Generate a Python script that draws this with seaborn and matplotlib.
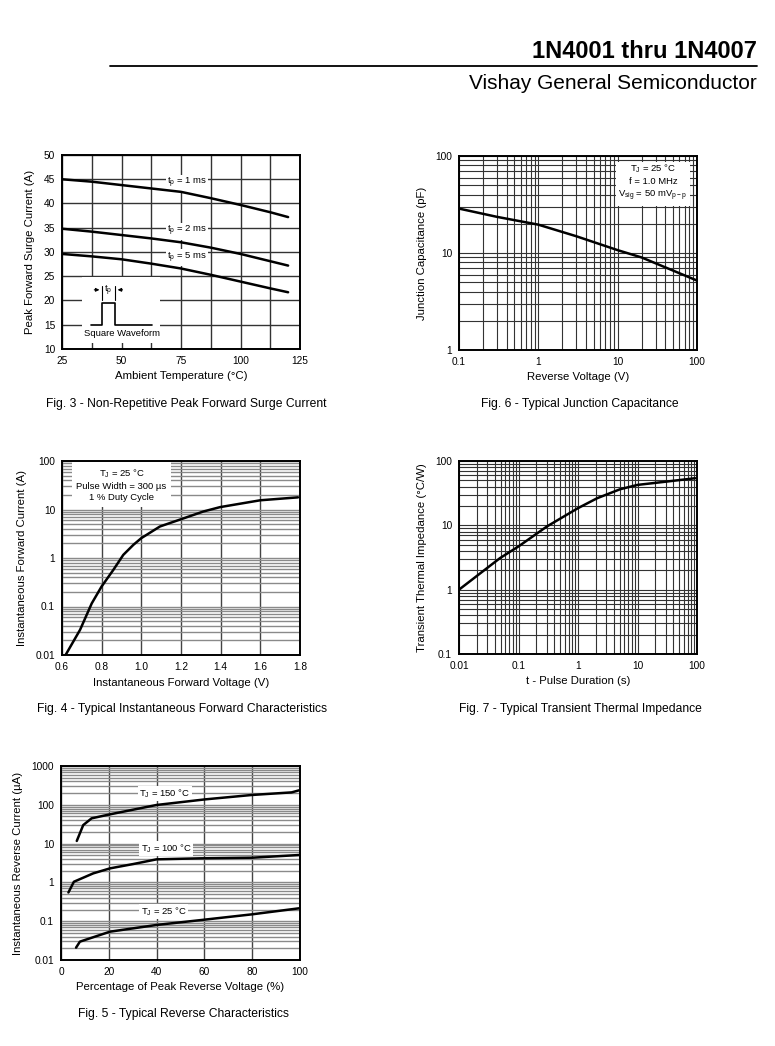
import numpy as np
import pandas as pd
import matplotlib
matplotlib.use("Agg")
import matplotlib.pyplot as plt
import seaborn as sns
from matplotlib.ticker import FixedLocator, NullFormatter, FuncFormatter, LogLocator, MultipleLocator
from matplotlib.lines import Line2D

# ---------------- data ----------------
# Fig 3 - surge current vs ambient temperature
fig3_temp = [25, 37.5, 50, 62.5, 75, 87.5, 100, 112.5, 120]
fig3_tp1 = [45.0, 44.5, 43.8, 43.1, 42.4, 41.1, 39.7, 38.2, 37.2]
fig3_tp2 = [34.8, 34.2, 33.5, 32.8, 32.0, 30.9, 29.6, 28.1, 27.2]
fig3_tp5 = [29.6, 29.1, 28.5, 27.6, 26.6, 25.3, 23.9, 22.5, 21.7]
fig3_labels = ["t$_\\mathregular{p}$ = 1 ms", "t$_\\mathregular{p}$ = 2 ms", "t$_\\mathregular{p}$ = 5 ms"]

# Fig 6 - junction capacitance
fig6_v = [0.1, 0.3, 1, 3, 10, 20, 100]
fig6_c = [28.7, 23.6, 19.6, 14.9, 10.7, 9.0, 5.2]

# Fig 4 - forward characteristics
fig4_v = [0.618, 0.691, 0.75, 0.80, 0.859, 0.909, 0.96, 1.0, 1.094, 1.2, 1.313, 1.397, 1.6, 1.79]
fig4_i = [0.01, 0.033, 0.116, 0.26, 0.57, 1.16, 1.87, 2.57, 4.47, 6.3, 9.1, 11.2, 15.5, 17.8]

# Fig 7 - transient thermal impedance
fig7_t = [0.01, 0.049, 0.1, 0.3, 1, 2.1, 5.1, 10, 31, 93]
fig7_z = [1.0, 3.1, 4.7, 9.6, 18.5, 26.4, 36.4, 42.5, 47.9, 54]

# Fig 5 - reverse characteristics
fig5_x150 = [6.6, 9.3, 12.8, 20.5, 40, 60.3, 79.8, 96.5, 99.6]
fig5_i150 = [11.7, 30, 44.8, 56.8, 99, 138, 179, 209, 236]
fig5_x100 = [3.1, 5.4, 13.5, 20.5, 30.3, 40, 58, 80, 99.6]
fig5_i100 = [0.55, 1.04, 1.71, 2.3, 2.98, 3.93, 4.17, 4.33, 5.08]
fig5_x25 = [6.3, 7.9, 20.5, 40, 60.3, 79.8, 99.6]
fig5_i25 = [0.0208, 0.0297, 0.0537, 0.08, 0.11, 0.15, 0.215]
fig5_labels = ["T$_\\mathregular{J}$ = 150 °C", "T$_\\mathregular{J}$ = 100 °C", "T$_\\mathregular{J}$ = 25 °C"]

captions = [
    "Fig. 3 - Non-Repetitive Peak Forward Surge Current",
    "Fig. 6 - Typical Junction Capacitance",
    "Fig. 4 - Typical Instantaneous Forward Characteristics",
    "Fig. 7 - Typical Transient Thermal Impedance",
    "Fig. 5 - Typical Reverse Characteristics",
]

# ---------------- style ----------------
sns.set_theme(style="white")
plt.rcParams['font.family'] = ['Liberation Sans', 'DejaVu Sans']
plt.rcParams['mathtext.fontset'] = 'custom'
plt.rcParams['mathtext.rm'] = 'Liberation Sans'
plt.rcParams['axes.edgecolor'] = 'black'
plt.rcParams['axes.linewidth'] = 1.4
plt.rcParams['text.color'] = 'black'
plt.rcParams['axes.labelcolor'] = 'black'
plt.rcParams['xtick.color'] = 'black'
plt.rcParams['ytick.color'] = 'black'

W, H = 775, 1046
fig = plt.figure(figsize=(W / 100, H / 100), dpi=100)
fig.patch.set_facecolor('white')


def make_ax(x0, y0, x1, y1):
    ax = fig.add_axes([x0 / W, 1 - y1 / H, (x1 - x0) / W, (y1 - y0) / H])
    ax.set_facecolor('white')
    for s in ax.spines.values():
        s.set_visible(True)
        s.set_color('black')
        s.set_linewidth(1.4)
        s.set_zorder(5)
    ax.tick_params(which='both', length=0, labelsize=7.3, pad=5, colors='black')
    return ax


LAB = 8.2
CURVE_LW = 1.8
logfmt = FuncFormatter(lambda v, p: f"{v:g}")

# ---------- Fig 3 ----------
ax3 = make_ax(62, 155, 300, 349)
d3 = pd.DataFrame({"temp": fig3_temp * 3,
                   "I": fig3_tp1 + fig3_tp2 + fig3_tp5,
                   "tp": ["1"] * 9 + ["2"] * 9 + ["5"] * 9})
sns.lineplot(data=d3, x="temp", y="I", units="tp", estimator=None, color="black",
             lw=CURVE_LW, ax=ax3, legend=False, zorder=4)
ax3.set_xlim(25, 125)
ax3.set_ylim(10, 50)
ax3.xaxis.set_major_locator(FixedLocator([25, 50, 75, 100, 125]))
ax3.xaxis.set_minor_locator(FixedLocator([37.5, 62.5, 87.5, 112.5]))
ax3.yaxis.set_major_locator(MultipleLocator(5))
ax3.grid(True, which='both', axis='x', color='#333333', lw=1.0)
ax3.grid(True, which='major', axis='y', color='#333333', lw=1.0)
ax3.set_xlabel("Ambient Temperature (°C)", fontsize=LAB, labelpad=4)
ax3.set_ylabel("Peak Forward Surge Current (A)", fontsize=LAB, labelpad=6)
for lab, yv in zip(fig3_labels, [44.2, 34.3, 28.8]):
    ax3.text(77.5, yv, lab, fontsize=6.8, ha='center', va='center', zorder=3,
             bbox=dict(facecolor='white', edgecolor='none', pad=1.0))
# inset: square waveform
ax3.add_patch(plt.Rectangle((33.4, 11.3), 32.8, 13.5, facecolor='white', edgecolor='none', zorder=2))
ax3.plot([37.0, 41.9, 41.9, 47.2, 47.2, 62.9], [15, 15, 19.4, 19.4, 15, 15], color='black', lw=1.2, zorder=3)
ax3.plot([41.9, 41.9], [20.1, 22.9], color='black', lw=0.8, zorder=3)
ax3.plot([47.2, 47.2], [20.1, 22.9], color='black', lw=0.8, zorder=3)
ax3.annotate("", xy=(41.9, 22.2), xytext=(37.4, 22.2),
             arrowprops=dict(arrowstyle='-|>', color='black', lw=0.8, mutation_scale=5), zorder=3)
ax3.annotate("", xy=(47.2, 22.2), xytext=(51.6, 22.2),
             arrowprops=dict(arrowstyle='-|>', color='black', lw=0.8, mutation_scale=5), zorder=3)
ax3.text(44.55, 22.0, "t$_\\mathregular{p}$", fontsize=6.8, ha='center', va='center', zorder=3)
ax3.text(50.1, 13.2, "Square Waveform", fontsize=6.8, ha='center', va='center', zorder=3)

# ---------- Fig 6 ----------
ax6 = make_ax(459, 156, 697, 350)
sns.lineplot(x=fig6_v, y=fig6_c, color='black', lw=CURVE_LW, ax=ax6, zorder=4)
ax6.set_xscale('log')
ax6.set_yscale('log')
ax6.set_xlim(0.1, 100)
ax6.set_ylim(1, 100)
for axis in (ax6.xaxis, ax6.yaxis):
    axis.set_major_locator(LogLocator(base=10, numticks=10))
    axis.set_minor_locator(LogLocator(base=10, subs=np.arange(2, 10), numticks=20))
    axis.set_major_formatter(logfmt)
    axis.set_minor_formatter(NullFormatter())
ax6.grid(True, which='both', color='#333333', lw=0.8)
ax6.set_xlabel("Reverse Voltage (V)", fontsize=LAB, labelpad=4)
ax6.set_ylabel("Junction Capacitance (pF)", fontsize=LAB, labelpad=6)
ax6.text(0.815, 0.965,
         "T$_\\mathregular{J}$ = 25 °C\nf = 1.0 MHz\nV$_\\mathregular{sig}$ = 50 mV$_\\mathregular{p-p}$",
         transform=ax6.transAxes, fontsize=6.8, ha='center', va='top', linespacing=1.3, zorder=3,
         bbox=dict(facecolor='white', edgecolor='none', pad=2.0))

# ---------- Fig 4 ----------
ax4 = make_ax(62, 461, 300, 655)
sns.lineplot(x=fig4_v, y=fig4_i, color='black', lw=CURVE_LW, ax=ax4, zorder=4)
ax4.set_yscale('log')
ax4.set_xlim(0.6, 1.8)
ax4.set_ylim(0.01, 100)
ax4.xaxis.set_major_locator(MultipleLocator(0.2))
ax4.xaxis.set_major_formatter(FuncFormatter(lambda v, p: f"{v:.1f}"))
ax4.yaxis.set_major_locator(LogLocator(base=10, numticks=10))
ax4.yaxis.set_minor_locator(LogLocator(base=10, subs=np.arange(2, 10), numticks=20))
ax4.yaxis.set_major_formatter(logfmt)
ax4.yaxis.set_minor_formatter(NullFormatter())
ax4.grid(True, which='major', axis='x', color='#444444', lw=1.0)
ax4.grid(True, which='both', axis='y', color='#8a8a8a', lw=1.0)
ax4.set_xlabel("Instantaneous Forward Voltage (V)", fontsize=LAB, labelpad=4)
ax4.set_ylabel("Instantaneous Forward Current (A)", fontsize=LAB, labelpad=6)
ax4.text(0.25, 0.965,
         "T$_\\mathregular{J}$ = 25 °C\nPulse Width = 300 µs\n1 % Duty Cycle",
         transform=ax4.transAxes, fontsize=6.8, ha='center', va='top', linespacing=1.3, zorder=3,
         bbox=dict(facecolor='white', edgecolor='none', pad=3.0))

# ---------- Fig 7 ----------
ax7 = make_ax(459, 461, 697, 654)
sns.lineplot(x=fig7_t, y=fig7_z, color='black', lw=CURVE_LW, ax=ax7, zorder=4)
ax7.set_xscale('log')
ax7.set_yscale('log')
ax7.set_xlim(0.01, 100)
ax7.set_ylim(0.1, 100)
for axis in (ax7.xaxis, ax7.yaxis):
    axis.set_major_locator(LogLocator(base=10, numticks=10))
    axis.set_minor_locator(LogLocator(base=10, subs=np.arange(2, 10), numticks=20))
    axis.set_major_formatter(logfmt)
    axis.set_minor_formatter(NullFormatter())
ax7.grid(True, which='both', color='#333333', lw=0.8)
ax7.set_xlabel("t - Pulse Duration (s)", fontsize=LAB, labelpad=4)
ax7.set_ylabel("Transient Thermal Impedance (°C/W)", fontsize=LAB, labelpad=6)

# ---------- Fig 5 ----------
ax5 = make_ax(61, 766, 300, 960)
d5 = pd.DataFrame({"x": fig5_x150 + fig5_x100 + fig5_x25,
                   "i": fig5_i150 + fig5_i100 + fig5_i25,
                   "tj": ["150"] * len(fig5_x150) + ["100"] * len(fig5_x100) + ["25"] * len(fig5_x25)})
sns.lineplot(data=d5, x="x", y="i", units="tj", estimator=None, color='black',
             lw=CURVE_LW, ax=ax5, legend=False, zorder=4)
ax5.set_yscale('log')
ax5.set_xlim(0, 100)
ax5.set_ylim(0.01, 1000)
ax5.xaxis.set_major_locator(MultipleLocator(20))
ax5.yaxis.set_major_locator(LogLocator(base=10, numticks=10))
ax5.yaxis.set_minor_locator(LogLocator(base=10, subs=np.arange(2, 10), numticks=20))
ax5.yaxis.set_major_formatter(logfmt)
ax5.yaxis.set_minor_formatter(NullFormatter())
ax5.grid(True, which='major', axis='x', color='#444444', lw=1.0)
ax5.grid(True, which='both', axis='y', color='#8a8a8a', lw=1.0)
ax5.set_xlabel("Percentage of Peak Reverse Voltage (%)", fontsize=LAB, labelpad=4)
ax5.set_ylabel("Instantaneous Reverse Current (µA)", fontsize=LAB, labelpad=6)
for lab, xv, yv in zip(fig5_labels, [43.5, 44, 43], [198, 7.5, 0.176]):
    ax5.text(xv, yv, lab, fontsize=6.8, ha='center', va='center', zorder=3,
             bbox=dict(facecolor='white', edgecolor='none', pad=1.0))

# ---------- captions & header ----------
cap_pos = [(186, 407), (580, 407), (182, 712), (580, 712), (184, 1017)]
for txt, (cx, cy) in zip(captions, cap_pos):
    fig.text(cx / W, 1 - cy / H, txt, fontsize=8.7, ha='center', va='baseline')

fig.text(757 / W, 1 - 58 / H, "1N4001 thru 1N4007", fontsize=17, weight='bold',
         ha='right', va='baseline')
fig.add_artist(Line2D([110 / W, 757 / W], [1 - 66 / H, 1 - 66 / H], color='black', lw=1.3))
fig.text(757 / W, 1 - 89 / H, "Vishay General Semiconductor", fontsize=15,
         ha='right', va='baseline')

fig.savefig("out.png", dpi=100, facecolor='white')
